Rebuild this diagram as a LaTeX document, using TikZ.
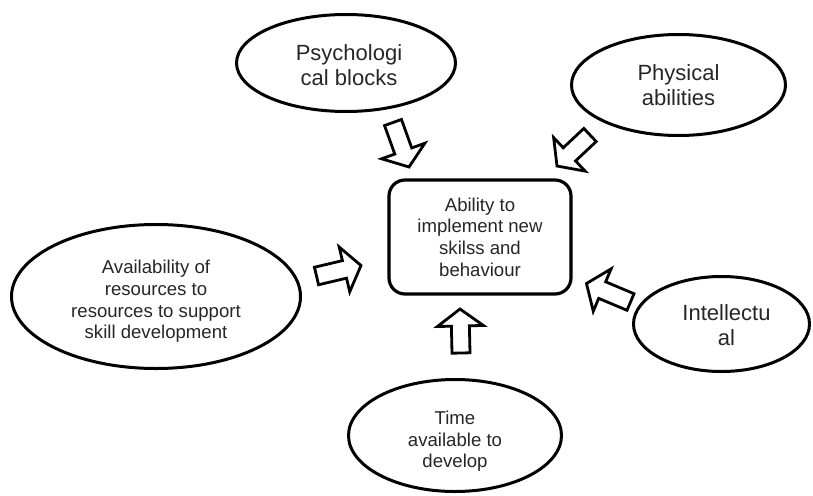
\documentclass[tikz,border=0pt]{standalone}
\usepackage{fontspec}
\setmainfont{Liberation Sans}
\usetikzlibrary{shapes.geometric,calc}

% hollow block arrow from a tail coordinate to a tip coordinate
\newcommand\blockarrow[2]{%
  \coordinate (#1-base) at ($(#2)!17pt!(#1)$);
  \draw[hollowarrow]
    ($(#1)!9pt!90:(#2)$) -- ($(#1-base)!9pt!-90:(#1)$) --
    ($(#1-base)!23pt!-90:(#1)$) -- (#2) --
    ($(#1-base)!23pt!90:(#1)$) -- ($(#1-base)!9pt!90:(#1)$) --
    ($(#1)!9pt!-90:(#2)$) -- cycle;}

\begin{document}
\begin{tikzpicture}[x=1pt,y=-1pt,
  oval/.style={ellipse, draw=black, line width=3pt, inner sep=0pt},
  caption/.style={align=center, text=black!85, inner sep=0pt},
  bigtext/.style={font=\fontsize{22}{25.7}\selectfont},
  smalltext/.style={font=\fontsize{18.6}{21.6}\selectfont},
  goalbox/.style={draw=black, rounded corners=16pt, line width=3.2pt,
    minimum width=182pt, minimum height=114pt, inner sep=0pt,
    align=center, text=black!85, font=\fontsize{18.6}{21.6}\selectfont},
  hollowarrow/.style={draw=black, fill=white, line width=2.8pt,
    line join=miter}]

\useasboundingbox (0,0) rectangle (813,495);

% central box
\node[goalbox] (goal) at (480,237)
  {Ability to\\implement new\\skilss and\\behaviour};

% surrounding factors
\node[oval, minimum width=219pt, minimum height=97pt] (psych) at (346,63) {};
\node[caption, bigtext, xshift=3pt, yshift=-2pt] (psych-text) at (psych)
  {Psychologi\\cal blocks};

\node[oval, minimum width=214pt, minimum height=101pt] (phys) at (678.5,85) {};
\node[caption, bigtext] (phys-text) at (phys) {Physical\\abilities};

\node[oval, minimum width=289pt, minimum height=144pt] (res) at (156,296.5) {};
\node[caption, smalltext, yshift=-5pt] (res-text) at (res)
  {Availability of\\resources to\\resources to support\\skill development};

\node[oval, minimum width=176pt, minimum height=95pt] (intel) at (721.5,324) {};
\node[caption, bigtext, xshift=5pt, yshift=-1pt] (intel-text) at (intel)
  {Intellectu\\al};

\node[oval, minimum width=213pt, minimum height=112pt] (time) at (455,435.5) {};
\node[caption, smalltext, yshift=-6pt] (time-text) at (time)
  {Time\\available to\\develop};

% arrow tails and tips
\coordinate (psychT) at (393,122.5);  \coordinate (psychH) at (409,167);
\coordinate (physT)  at (590,135);    \coordinate (physH)  at (557,166);
\coordinate (resT)   at (316.5,276);  \coordinate (resH)   at (361,265.5);
\coordinate (intelT) at (630.5,302);  \coordinate (intelH) at (586.5,283.5);
\coordinate (timeT)  at (461,353);    \coordinate (timeH)  at (460,309);

\blockarrow{psychT}{psychH}
\blockarrow{physT}{physH}
\blockarrow{resT}{resH}
\blockarrow{intelT}{intelH}
\blockarrow{timeT}{timeH}

\end{tikzpicture}
\end{document}
